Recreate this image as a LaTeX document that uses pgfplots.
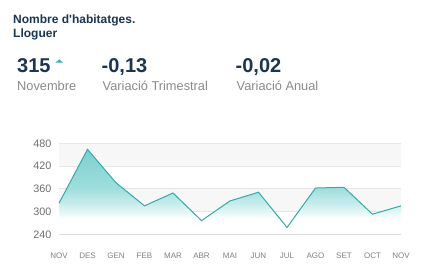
\documentclass[border=0pt]{standalone}
\usepackage{pgfplots}
\pgfplotsset{compat=1.18}
\usepackage{fontspec}
\setmainfont{Liberation Sans}
\definecolor{navy}{HTML}{1B3552}
\definecolor{graytxt}{HTML}{8A8A8A}
\definecolor{ticktxt}{HTML}{6E6E6E}
\definecolor{xticktxt}{HTML}{808080}
\definecolor{tealline}{HTML}{36A9A9}
\definecolor{tealA}{HTML}{C8ECEC}
\definecolor{tealB}{HTML}{A0DEDE}
\definecolor{tealfill}{HTML}{7CCFCF}
\definecolor{tri}{HTML}{2DB3A6}
\definecolor{gridc}{HTML}{E6E6E6}
\definecolor{axisc}{HTML}{DADADA}
\definecolor{bandc}{HTML}{F7F7F7}
\pgfdeclareverticalshading{fadeteal}{100bp}{color(0bp)=(white); color(25bp)=(white); color(34bp)=(white); color(43bp)=(tealA); color(52bp)=(tealB); color(75bp)=(tealfill); color(100bp)=(tealfill)}
\pgfplotstableread{
x y
0 322
1 464
2 376
3 315
4 349
5 276
6 328
7 351
8 258
9 362
10 364
11 293
12 315
}\datatab
\begin{document}
\begin{tikzpicture}[x=1pt,y=1pt]
\path[use as bounding box,fill=white] (0,0) rectangle (437,-278);
\node[anchor=base west,inner sep=0,text=navy,font=\fontsize{12}{14}\selectfont\bfseries] at (13,-23.3) {Nombre d\textquotesingle habitatges.};
\node[anchor=base west,inner sep=0,text=navy,font=\fontsize{12}{14}\selectfont\bfseries] at (13,-38) {Lloguer};
\node[anchor=base west,inner sep=0,text=navy,font=\fontsize{20}{22}\selectfont\bfseries] at (17,-72.3) {315};
\node[anchor=base west,inner sep=0,text=navy,font=\fontsize{20}{22}\selectfont\bfseries] at (101.5,-72.3) {-0,13};
\node[anchor=base west,inner sep=0,text=navy,font=\fontsize{20}{22}\selectfont\bfseries] at (235.5,-72.3) {-0,02};
\fill[tri] (55.3,-62.7) -- (63.3,-62.7) -- (59.3,-59.5) -- cycle;
\node[anchor=base west,inner sep=0,text=graytxt,font=\fontsize{12.8}{14}\selectfont] at (17,-91) {Novembre};
\node[anchor=base west,inner sep=0,text=graytxt,font=\fontsize{12.8}{14}\selectfont] at (102.5,-91) {Variació Trimestral};
\node[anchor=base west,inner sep=0,text=graytxt,font=\fontsize{12.8}{14}\selectfont] at (236.5,-91) {Variació Anual};
\begin{axis}[
  at={(59pt,-234.3pt)}, anchor=south west,
  scale only axis, width=342pt, height=91pt,
  xmin=0, xmax=12, ymin=240, ymax=480,
  clip=false,
  axis line style={draw=none},
  xtick={0,...,12},
  xticklabels={NOV,DES,GEN,FEB,MAR,ABR,MAI,JUN,JUL,AGO,SET,OCT,NOV},
  ytick={240,300,360,420,480},
  tick style={draw=none},
  xticklabel style={font=\fontsize{8}{9}\selectfont, text=xticktxt, yshift=-15pt},
  yticklabel style={font=\fontsize{10.8}{12}\selectfont, text=ticktxt, xshift=-4pt},
  /pgf/number format/assume math mode=true,
]
\fill[bandc] (axis cs:0,420) rectangle (axis cs:12,480);
\fill[bandc] (axis cs:0,300) rectangle (axis cs:12,360);
\draw[gridc, line width=0.8pt] (axis cs:0,300) -- (axis cs:12,300);
\draw[gridc, line width=0.8pt] (axis cs:0,360) -- (axis cs:12,360);
\draw[gridc, line width=0.8pt] (axis cs:0,420) -- (axis cs:12,420);
\draw[gridc, line width=0.8pt] (axis cs:0,480) -- (axis cs:12,480);
\addplot[draw=none, shading=fadeteal] table[x=x,y=y] {\datatab} \closedcycle;
\addplot[tealline, line width=1pt, mark=none] table[x=x,y=y] {\datatab};
\draw[axisc, line width=1.2pt] (axis cs:0,240) -- (axis cs:12,240);
\end{axis}
\end{tikzpicture}
\end{document}
